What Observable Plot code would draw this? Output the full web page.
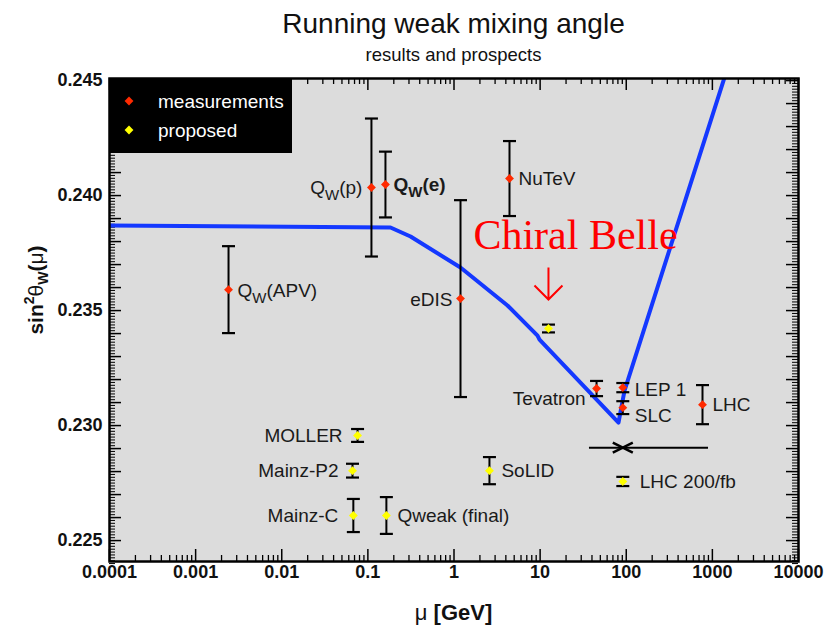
<!DOCTYPE html>
<html>
<head>
<meta charset="utf-8">
<script src="https://cdn.jsdelivr.net/npm/d3@7"></script>
<script src="https://cdn.jsdelivr.net/npm/@observablehq/plot@0.6"></script>
<style>
  html, body { margin: 0; padding: 0; background: white; }
  #head { position: relative; width: 824px; height: 68px; font-family: 'Liberation Sans', Arial, sans-serif; color: #111; }
  #title { position: absolute; left: 109px; width: 689px; top: 8px; line-height: 32px; font-size: 28px; text-align: center; }
  #subtitle { position: absolute; left: 109px; width: 689px; top: 45px; line-height: 20px; font-size: 18.5px; text-align: center; }
  #chart svg { display: block; overflow: visible; }
</style>
</head>
<body>
<div id="head">
  <div id="title">Running weak mixing angle</div>
  <div id="subtitle">results and prospects</div>
</div>
<div id="chart"></div>
<script>
// ---- data ----
const measLabels = ["Q_W(APV)", "Q_W(p)", "Q_W(e)", "NuTeV", "eDIS", "Tevatron", "LEP 1", "SLC", "LHC"];
const measMu     = [0.00241, 0.110, 0.160, 4.41, 1.19, 45.2, 91.19, 91.19, 768];
const measVal    = [0.23591, 0.24035, 0.24048, 0.24074, 0.23552, 0.23161, 0.23165, 0.23078, 0.23091];
const measErr    = [0.00189, 0.00300, 0.00143, 0.00163, 0.00428, 0.00033, 0.00020, 0.00028, 0.00085];

const propLabels = ["Chiral Belle", "MOLLER", "Mainz-P2", "Mainz-C", "Qweak (final)", "SoLID", "LHC 200/fb"];
const propMu     = [12.5, 0.0759, 0.0663, 0.0678, 0.164, 2.58, 91.19];
const propVal    = [0.23422, 0.22957, 0.22804, 0.22609, 0.22609, 0.22804, 0.22757];
const propErr    = [0.00017, 0.00028, 0.00030, 0.00072, 0.00080, 0.00059, 0.00020];

// future measurement shown as a horizontal range with a cross
const rangeMu  = [91.19];
const rangeLo  = [37.4];
const rangeHi  = [902];
const rangeVal = [0.22904];

// running of sin^2 theta_W (curve)
const curveMu  = [1e-4, 0.183, 0.313, 1.19, 4.18, 9.33, 9.84, 81.3, 95.5, 1347, 2123];
const curveVal = [0.23870, 0.23861, 0.23822, 0.23687, 0.23522, 0.23391, 0.23374, 0.23013, 0.23152, 0.24500, 0.24739];

// axes
const xTickValues = [1e-4, 1e-3, 1e-2, 1e-1, 1, 10, 100, 1000, 10000];
const xTickLabels = ["0.0001", "0.001", "0.01", "0.1", "1", "10", "100", "1000", "10000"];
const yTickValues = [0.225, 0.230, 0.235, 0.240, 0.245];
const yTickLabels = ["0.225", "0.230", "0.235", "0.240", "0.245"];
const yDomain = [0.22409, 0.24509];

const legendLabels = ["measurements", "proposed"];
const legendColors = ["#ff2a00", "#ffff00"];

// label layout offsets (pixels)
const measLabelDx = [9, -9, 8, 9, -8, -11, 12, 12, 10];
const measLabelDy = [1, 0, 0, 0, 1, 10, 2, 8, 0];
const propLabelDx = [0, -15, -14, -15, 11, 12, 17];

// ---- tables ----
const meas = measLabels.map((label, i) => ({label, mu: measMu[i], v: measVal[i], e: measErr[i], dx: measLabelDx[i], dy: measLabelDy[i]}));
const prop = propLabels.map((label, i) => ({label, mu: propMu[i], v: propVal[i], e: propErr[i], dx: propLabelDx[i]}));
const all = meas.concat(prop);
const curve = curveMu.map((mu, i) => ({mu, v: curveVal[i]}));
const ranges = rangeMu.map((mu, i) => ({mu, lo: rangeLo[i], hi: rangeHi[i], v: rangeVal[i]}));

const xMinor = d3.range(-4, 4).flatMap(k => d3.range(2, 10).map(m => m * Math.pow(10, k)));
const yMajor = d3.range(225, 246).map(k => k / 1000);
const yMinor = d3.range(0, 169).map(i => 0.224 + i * 0.000125);

const W = 824, H = 560, mL = 109, mR = 26, mT = 10, mB = 67;
const fw = W - mL - mR, fh = H - mT - mB;

const capSymbol = {draw(ctx) { ctx.moveTo(-6.5, 0); ctx.lineTo(6.5, 0); }};
const crossSymbol = {draw(ctx) { ctx.moveTo(-10, -5); ctx.lineTo(10, 5); ctx.moveTo(-10, 5); ctx.lineTo(10, -5); }};
const arrowSymbol = {draw(ctx) { ctx.moveTo(0, -16); ctx.lineTo(0, 16); ctx.moveTo(-14, 2); ctx.lineTo(0, 16); ctx.lineTo(14, 2); }};

const labelFont = "'Liberation Sans', Arial, sans-serif";
const belle = prop.filter(d => d.label === "Chiral Belle");
const propOthers = prop.filter(d => d.label !== "Chiral Belle");

const chart = Plot.plot({
  width: W, height: H,
  marginLeft: mL, marginRight: mR, marginTop: mT, marginBottom: mB,
  x: {type: "log", domain: [1e-4, 1e4], axis: null},
  y: {domain: yDomain, axis: null},
  style: {fontFamily: labelFont, background: "white", overflow: "visible"},
  marks: [
    Plot.frame({fill: "#dcdcdc", stroke: "none"}),
    // bottom ticks
    Plot.tickX(xTickValues, {x: d => d, insetTop: fh - 12, stroke: "black", strokeWidth: 1.5}),
    Plot.tickX(xMinor, {x: d => d, insetTop: fh - 6, stroke: "black", strokeWidth: 1.3}),
    // top ticks
    Plot.tickX(xTickValues, {x: d => d, insetBottom: fh - 12, stroke: "black", strokeWidth: 1.5}),
    Plot.tickX(xMinor, {x: d => d, insetBottom: fh - 6, stroke: "black", strokeWidth: 1.3}),
    // left ticks
    Plot.tickY(yMajor, {y: d => d, insetRight: fw - 12, stroke: "black", strokeWidth: 1.5}),
    Plot.tickY(yMinor, {y: d => d, insetRight: fw - 6, stroke: "black", strokeWidth: 1}),
    // right ticks
    Plot.tickY(yMajor, {y: d => d, insetLeft: fw - 12, stroke: "black", strokeWidth: 1.5}),
    Plot.tickY(yMinor, {y: d => d, insetLeft: fw - 6, stroke: "black", strokeWidth: 1}),
    // tick labels
    Plot.text(xTickValues, {x: d => d, text: (d, i) => xTickLabels[i], frameAnchor: "bottom", dy: 16, fontWeight: "bold", fontSize: 18, fill: "#111"}),
    Plot.text(yTickValues, {y: d => d, text: (d, i) => yTickLabels[i], frameAnchor: "left", dx: -7, textAnchor: "end", fontWeight: "bold", fontSize: 18, fill: "#111"}),
    // running curve
    Plot.line(curve, {x: "mu", y: "v", stroke: "#1438ff", strokeWidth: 4, clip: true}),
    // horizontal range with cross
    Plot.ruleY(ranges, {y: "v", x1: "lo", x2: "hi", stroke: "black", strokeWidth: 2}),
    Plot.dot(ranges, {x: "mu", y: "v", symbol: crossSymbol, fill: "none", stroke: "black", strokeWidth: 2.5}),
    // error bars
    Plot.ruleX(all, {x: "mu", y1: d => d.v - d.e, y2: d => d.v + d.e, stroke: "black", strokeWidth: 2}),
    Plot.dot(all, {x: "mu", y: d => d.v - d.e, symbol: capSymbol, fill: "none", stroke: "black", strokeWidth: 2.2}),
    Plot.dot(all, {x: "mu", y: d => d.v + d.e, symbol: capSymbol, fill: "none", stroke: "black", strokeWidth: 2.2}),
    // points
    Plot.dot(meas, {x: "mu", y: "v", symbol: "diamond2", r: 4, fill: legendColors[0], stroke: "none"}),
    Plot.dot(prop, {x: "mu", y: "v", symbol: "diamond2", r: 4, fill: legendColors[1], stroke: "none"}),
    // labels
    Plot.text(meas.filter(d => d.dx > 0), {x: "mu", y: "v", text: "label", textAnchor: "start", fontSize: 19, fill: "#1a1a1a"}),
    Plot.text(meas.filter(d => d.dx < 0), {x: "mu", y: "v", text: "label", textAnchor: "end", fontSize: 19, fill: "#1a1a1a"}),
    Plot.text(propOthers.filter(d => d.dx > 0), {x: "mu", y: "v", text: "label", textAnchor: "start", fontSize: 19, fill: "#1a1a1a"}),
    Plot.text(propOthers.filter(d => d.dx < 0), {x: "mu", y: "v", text: "label", textAnchor: "end", fontSize: 19, fill: "#1a1a1a"}),
    // Chiral Belle annotation
    Plot.text(belle, {x: "mu", y: "v", text: "label", dx: 27, dy: -93, fill: "#ff0000", fontSize: 42, fontFamily: "'Liberation Serif', 'DejaVu Serif', serif"}),
    Plot.dot(belle, {x: "mu", y: "v", dy: -45, symbol: arrowSymbol, fill: "none", stroke: "#ff0000", strokeWidth: 2}),
    Plot.frame({stroke: "black", strokeWidth: 2.5})
  ]
});
document.getElementById("chart").appendChild(chart);

const svg = d3.select(chart);

// per-label offsets, subscripts and bold for labels
svg.selectAll("text").each(function() {
  const t = this.textContent;
  const d = all.find(o => o.label === t);
  if (d && t !== "Chiral Belle") {
    const cur = this.getAttribute("transform") || "";
    const dx = d.dx || 0, dy = d.dy || 0;
    this.setAttribute("transform", cur + ` translate(${dx},${dy})`);
  }
  if (t.includes("_W")) {
    const [a, b] = t.split("_W");
    const el = d3.select(this);
    el.text(null);
    el.append("tspan").text(a);
    el.append("tspan").attr("dy", 6).attr("font-size", 15).text("W");
    el.append("tspan").attr("dy", -6).text(b);
    if (t === "Q_W(e)") el.attr("font-weight", "bold");
  }
});

// y-axis label
const yl = svg.append("text")
  .attr("transform", `translate(43,${290 - 68}) rotate(-90)`)
  .attr("text-anchor", "middle")
  .attr("font-family", labelFont)
  .attr("font-weight", "bold")
  .attr("font-size", 21)
  .attr("fill", "#111");
yl.append("tspan").text("sin");
yl.append("tspan").attr("dy", -9).attr("font-size", 14).text("2");
yl.append("tspan").attr("dy", 9).attr("font-weight", "normal").text("θ");
yl.append("tspan").attr("dy", 5).attr("font-size", 14).text("W");
yl.append("tspan").attr("dy", -5).text("(");
yl.append("tspan").attr("font-weight", "normal").text("μ");
yl.append("tspan").text(")");

// x-axis label
const xl = svg.append("text")
  .attr("x", mL + fw / 2).attr("y", 620 - 68)
  .attr("text-anchor", "middle")
  .attr("font-family", labelFont)
  .attr("font-weight", "bold")
  .attr("font-size", 22)
  .attr("fill", "#111");
xl.append("tspan").attr("font-weight", "normal").text("μ");
xl.append("tspan").text(" [GeV]");

// legend
const lg = svg.append("g");
lg.append("rect").attr("x", mL).attr("y", mT).attr("width", 292 - mL).attr("height", 75).attr("fill", "black");
legendLabels.forEach((lab, i) => {
  const cy = mT + 23 + i * 29;
  lg.append("path")
    .attr("transform", `translate(129,${cy})`)
    .attr("d", d3.symbol(d3.symbolDiamond2, 50)())
    .attr("fill", legendColors[i]);
  lg.append("text")
    .attr("x", 158).attr("y", cy).attr("dy", "0.35em")
    .attr("text-anchor", "start")
    .attr("font-family", labelFont).attr("font-size", 19)
    .attr("fill", "white").text(lab);
});
</script>
</body>
</html>
